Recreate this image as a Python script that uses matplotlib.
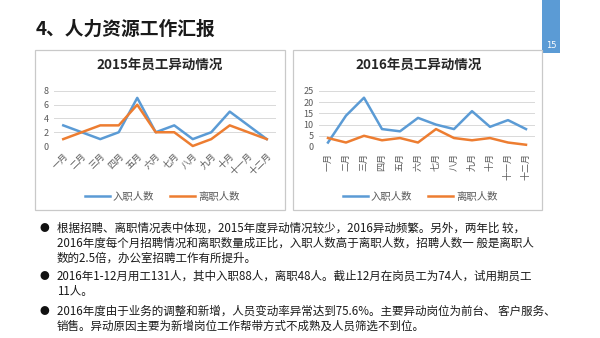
import matplotlib
matplotlib.use("Agg")
import matplotlib.pyplot as plt
from matplotlib.patches import Rectangle

plt.rcParams['font.family'] = ['Noto Sans CJK SC', 'DejaVu Sans']

W, H = 600, 338

months = ["一月", "二月", "三月", "四月", "五月", "六月",
          "七月", "八月", "九月", "十月", "十一月", "十二月"]
join2015 = [3, 2, 1, 2, 7, 2, 3, 1, 2, 5, 3, 1]
leave2015 = [1, 2, 3, 3, 6, 2, 2, 0, 1, 3, 2, 1]
join2016 = [2, 14, 22, 8, 7, 13, 10, 8, 16, 9, 12, 8]
leave2016 = [4, 2, 5, 3, 4, 2, 8, 4, 3, 4, 2, 1]
ticks2015 = [0, 2, 4, 6, 8]
ticks2016 = [0, 5, 10, 15, 20, 25]
seriesNames = ["入职人数", "离职人数"]

pageTitle = "4、人力资源工作汇报"
chartTitles = ["2015年员工异动情况", "2016年员工异动情况"]
bodyLines = [
    "根据招聘、离职情况表中体现，2015年度异动情况较少，2016异动频繁。另外，两年比 较，",
    "2016年度每个月招聘情况和离职数量成正比，入职人数高于离职人数，招聘人数一 般是离职人",
    "数的2.5倍，办公室招聘工作有所提升。",
    "2016年1-12月用工131人，其中入职88人，离职48人。截止12月在岗员工为74人，试用期员工",
    "11人。",
    "2016年度由于业务的调整和新增，人员变动率异常达到75.6%。主要异动岗位为前台、 客户服务、",
    "销售。异动原因主要为新增岗位工作帮带方式不成熟及人员筛选不到位。",
]
bulletLines = [0, 3, 5]

BLUE = "#5B9BD5"
ORANGE = "#ED7D31"
GRID = "#D9D9D9"
LABEL = "#595959"


def rect(x, y, w, h):
    # pixel box (top-left origin) -> figure fraction
    return [x / W, 1 - (y + h) / H, w / W, h / H]


def fx(x):
    return x / W


def fy(y):
    return 1 - y / H


fig = plt.figure(figsize=(W / 100, H / 100), dpi=100)
fig.patch.set_facecolor("white")

# page number tab
fig.patches.append(Rectangle((fx(542), fy(53)), fx(18), 53 / H, transform=fig.transFigure,
                             facecolor="#5B9BD5", edgecolor="none", zorder=-5))
fig.text(fx(551), fy(46), "15", color="white", fontsize=6, ha="center", va="center",
         family=['DejaVu Sans'])

fig.text(fx(36), fy(29), pageTitle, fontsize=13.5, fontweight="bold", ha="left", va="center",
         color="#1a1a1a")

# chart frames, kept behind the axes
for bx in [(35, 50, 250, 160), (293, 50, 249, 160)]:
    x, y, w, h = bx
    fig.patches.append(Rectangle((fx(x), fy(y + h)), w / W, h / H, transform=fig.transFigure,
                                 facecolor="white", edgecolor="#C9C9C9", lw=0.9, zorder=-5))


def draw_chart(pos, join, leave, yticks, title, titleX, legendX, vertical):
    ax = fig.add_axes(rect(*pos))
    x = range(len(months))
    ax.plot(x, join, color=BLUE, lw=1.8, clip_on=False, solid_joinstyle="round")
    ax.plot(x, leave, color=ORANGE, lw=1.8, clip_on=False, solid_joinstyle="round")
    ax.set_xlim(-0.5, len(months) - 0.5)
    ax.set_ylim(yticks[0], yticks[-1])
    ax.set_yticks(yticks)
    ax.set_xticks(list(x))
    if vertical:
        ax.set_xticklabels(months, rotation=90, ha="center", va="top")
    else:
        ax.set_xticklabels(months, rotation=45, ha="right", va="top", rotation_mode="anchor")
    ax.tick_params(length=0, labelsize=6.5, colors=LABEL, pad=4)
    ax.grid(axis="y", color=GRID, lw=0.7)
    ax.set_axisbelow(True)
    for s in ax.spines.values():
        s.set_visible(False)
    ax.patch.set_alpha(0)
    fig.text(fx(titleX), fy(65), title, fontsize=9.7, fontweight="bold", ha="center", va="center",
             color="#262626")
    fig.legend(ax.lines, seriesNames, loc="center", bbox_to_anchor=(fx(legendX), fy(197)),
               ncol=2, frameon=False, fontsize=7.5, handlelength=2.4, columnspacing=1.5,
               handletextpad=0.3, labelcolor=LABEL)
    return ax


draw_chart((54, 91, 222, 55), join2015, leave2015, ticks2015, chartTitles[0], 160, 162, False)
draw_chart((319, 91, 216, 56), join2016, leave2016, ticks2016, chartTitles[1], 419, 420, True)

# body text
lineY = [228, 243, 258, 276, 291, 311, 326]
for i, (line, y) in enumerate(zip(bodyLines, lineY)):
    if i in bulletLines:
        fig.text(fx(44), fy(y), "●", fontsize=7, ha="center", va="center", color="#111111")
    fig.text(fx(57), fy(y), line, fontsize=8.3, ha="left", va="center", color="#1a1a1a")

fig.savefig("out.png", dpi=100)
